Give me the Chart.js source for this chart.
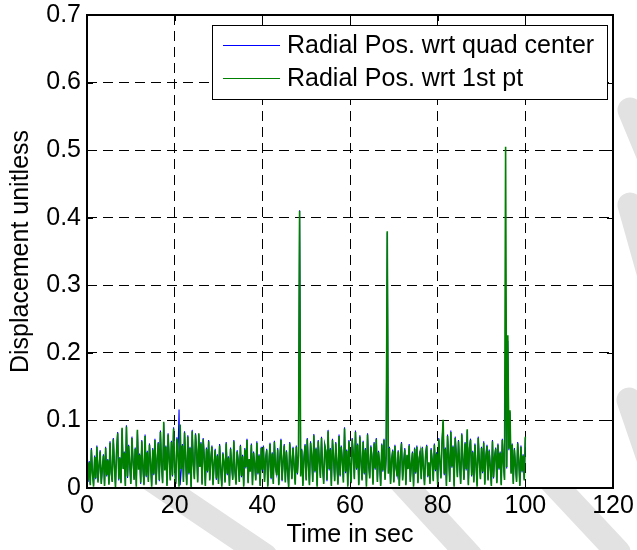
<!DOCTYPE html>
<html>
<head>
<meta charset="utf-8">
<script src="https://cdn.jsdelivr.net/npm/chart.js@4.4.0/dist/chart.umd.min.js"></script>
<style>
  html, body { margin: 0; padding: 0; background: #fff; }
  canvas { display: block; }
</style>
</head>
<body>
<canvas id="chart" width="637" height="550"></canvas>
<script>
// samples are 0.25 s apart, starting at t = 0 (10 samples per row = 2.5 s)
const SAMPLE_STEP = 0.25;

// Radial Pos. wrt quad center
const quadCenter = [
  /* 0 */    0.054, 0.009, 0.040, 0.006, 0.059, 0.021, 0.004, 0.048, 0.013, 0.063,
  /* 2.5 */  0.010, 0.031, 0.056, 0.008, 0.027, 0.050, 0.005, 0.061, 0.017, 0.043,
  /* 5 */    0.007, 0.069, 0.022, 0.011, 0.074, 0.034, 0.003, 0.057, 0.083, 0.011,
  /* 7.5 */  0.046, 0.009, 0.087, 0.030, 0.054, 0.005, 0.093, 0.015, 0.064, 0.033,
  /* 10 */   0.008, 0.076, 0.039, 0.014, 0.060, 0.004, 0.084, 0.029, 0.051, 0.006,
  /* 12.5 */ 0.071, 0.029, 0.006, 0.079, 0.016, 0.055, 0.011, 0.066, 0.036, 0.004,
  /* 15 */   0.059, 0.019, 0.073, 0.007, 0.041, 0.068, 0.010, 0.085, 0.032, 0.009,
  /* 17.5 */ 0.096, 0.028, 0.063, 0.005, 0.081, 0.043, 0.013, 0.070, 0.017, 0.090,
  /* 20 */   0.030, 0.008, 0.075, 0.049, 0.116, 0.004, 0.026, 0.065, 0.011, 0.084,
  /* 22.5 */ 0.043, 0.006, 0.078, 0.020, 0.061, 0.003, 0.086, 0.035, 0.015, 0.081,
  /* 25 */   0.057, 0.010, 0.079, 0.033, 0.068, 0.007, 0.074, 0.045, 0.005, 0.060,
  /* 27.5 */ 0.023, 0.071, 0.013, 0.042, 0.063, 0.006, 0.035, 0.058, 0.012, 0.050,
  /* 30 */   0.008, 0.065, 0.027, 0.004, 0.053, 0.037, 0.010, 0.068, 0.019, 0.047,
  /* 32.5 */ 0.005, 0.060, 0.031, 0.014, 0.071, 0.024, 0.007, 0.056, 0.039, 0.011,
  /* 35 */   0.064, 0.016, 0.049, 0.004, 0.059, 0.029, 0.073, 0.009, 0.041, 0.026,
  /* 37.5 */ 0.066, 0.006, 0.054, 0.034, 0.013, 0.069, 0.020, 0.050, 0.005, 0.061,
  /* 40 */   0.025, 0.063, 0.011, 0.042, 0.058, 0.004, 0.036, 0.067, 0.013, 0.053,
  /* 42.5 */ 0.008, 0.070, 0.030, 0.021, 0.059, 0.006, 0.044, 0.073, 0.010, 0.041,
  /* 45 */   0.065, 0.010, 0.056, 0.025, 0.003, 0.068, 0.040, 0.015, 0.061, 0.033,
  /* 47.5 */ 0.007, 0.063, 0.020, 0.050, 0.411, 0.019, 0.058, 0.005, 0.046, 0.065,
  /* 50 */   0.013, 0.074, 0.034, 0.006, 0.069, 0.047, 0.011, 0.080, 0.023, 0.060,
  /* 52.5 */ 0.004, 0.071, 0.039, 0.017, 0.076, 0.029, 0.008, 0.064, 0.055, 0.010,
  /* 55 */   0.086, 0.026, 0.059, 0.005, 0.073, 0.043, 0.012, 0.068, 0.035, 0.007,
  /* 57.5 */ 0.079, 0.017, 0.063, 0.040, 0.010, 0.090, 0.022, 0.057, 0.004, 0.071,
  /* 60 */   0.032, 0.009, 0.074, 0.049, 0.015, 0.085, 0.027, 0.066, 0.006, 0.078,
  /* 62.5 */ 0.039, 0.013, 0.070, 0.020, 0.059, 0.004, 0.081, 0.034, 0.016, 0.063,
  /* 65 */   0.049, 0.007, 0.068, 0.027, 0.074, 0.011, 0.055, 0.036, 0.005, 0.066,
  /* 67.5 */ 0.024, 0.073, 0.014, 0.046, 0.378, 0.023, 0.061, 0.008, 0.041, 0.057,
  /* 70 */   0.010, 0.064, 0.029, 0.019, 0.056, 0.005, 0.045, 0.068, 0.013, 0.037,
  /* 72.5 */ 0.059, 0.006, 0.047, 0.030, 0.065, 0.011, 0.034, 0.054, 0.004, 0.060,
  /* 75 */   0.021, 0.063, 0.009, 0.042, 0.055, 0.015, 0.061, 0.029, 0.006, 0.051,
  /* 77.5 */ 0.064, 0.016, 0.036, 0.008, 0.059, 0.040, 0.012, 0.066, 0.025, 0.053,
  /* 80 */   0.007, 0.074, 0.037, 0.016, 0.070, 0.098, 0.019, 0.060, 0.005, 0.079,
  /* 82.5 */ 0.048, 0.011, 0.085, 0.030, 0.063, 0.004, 0.076, 0.049, 0.018, 0.071,
  /* 85 */   0.035, 0.008, 0.081, 0.042, 0.014, 0.068, 0.026, 0.085, 0.006, 0.060,
  /* 87.5 */ 0.073, 0.017, 0.055, 0.010, 0.066, 0.033, 0.004, 0.076, 0.039, 0.015,
  /* 90 */   0.061, 0.022, 0.069, 0.007, 0.046, 0.064, 0.013, 0.057, 0.031, 0.005,
  /* 92.5 */ 0.071, 0.014, 0.048, 0.060, 0.009, 0.066, 0.027, 0.054, 0.006, 0.073,
  /* 95 */   0.036, 0.014, 0.221, 0.029, 0.218, 0.056, 0.112, 0.023, 0.066, 0.008,
  /* 97.5 */ 0.059, 0.032, 0.011, 0.068, 0.040, 0.005, 0.063, 0.023, 0.050, 0.013,
  /* 100 */  0.074
];

// Radial Pos. wrt 1st pt
const firstPoint = [
  /* 0 */    0.052, 0.011, 0.038, 0.004, 0.057, 0.023, 0.002, 0.046, 0.015, 0.061,
  /* 2.5 */  0.008, 0.033, 0.054, 0.006, 0.029, 0.048, 0.003, 0.059, 0.019, 0.041,
  /* 5 */    0.005, 0.067, 0.024, 0.009, 0.072, 0.036, 0.001, 0.055, 0.081, 0.013,
  /* 7.5 */  0.044, 0.007, 0.089, 0.028, 0.052, 0.003, 0.091, 0.017, 0.062, 0.035,
  /* 10 */   0.006, 0.074, 0.041, 0.012, 0.058, 0.002, 0.086, 0.027, 0.049, 0.008,
  /* 12.5 */ 0.069, 0.031, 0.004, 0.077, 0.018, 0.053, 0.009, 0.064, 0.038, 0.002,
  /* 15 */   0.057, 0.021, 0.071, 0.005, 0.043, 0.066, 0.012, 0.083, 0.034, 0.007,
  /* 17.5 */ 0.098, 0.026, 0.061, 0.003, 0.079, 0.045, 0.011, 0.068, 0.019, 0.088,
  /* 20 */   0.032, 0.006, 0.073, 0.051, 0.002, 0.094, 0.028, 0.063, 0.009, 0.082,
  /* 22.5 */ 0.041, 0.004, 0.076, 0.022, 0.059, 0.001, 0.084, 0.037, 0.013, 0.079,
  /* 25 */   0.055, 0.008, 0.081, 0.031, 0.066, 0.005, 0.072, 0.047, 0.003, 0.058,
  /* 27.5 */ 0.025, 0.069, 0.011, 0.044, 0.061, 0.004, 0.037, 0.056, 0.014, 0.048,
  /* 30 */   0.006, 0.063, 0.029, 0.002, 0.051, 0.039, 0.008, 0.066, 0.021, 0.045,
  /* 32.5 */ 0.003, 0.058, 0.033, 0.012, 0.069, 0.026, 0.005, 0.054, 0.041, 0.009,
  /* 35 */   0.062, 0.018, 0.047, 0.002, 0.057, 0.031, 0.071, 0.007, 0.043, 0.024,
  /* 37.5 */ 0.064, 0.004, 0.052, 0.036, 0.011, 0.067, 0.022, 0.048, 0.003, 0.059,
  /* 40 */   0.027, 0.061, 0.009, 0.044, 0.056, 0.002, 0.038, 0.065, 0.015, 0.051,
  /* 42.5 */ 0.006, 0.068, 0.032, 0.019, 0.057, 0.004, 0.046, 0.071, 0.012, 0.039,
  /* 45 */   0.063, 0.008, 0.054, 0.027, 0.001, 0.066, 0.042, 0.013, 0.059, 0.035,
  /* 47.5 */ 0.005, 0.061, 0.022, 0.048, 0.410, 0.017, 0.056, 0.003, 0.044, 0.063,
  /* 50 */   0.011, 0.072, 0.036, 0.004, 0.067, 0.049, 0.009, 0.078, 0.025, 0.058,
  /* 52.5 */ 0.002, 0.069, 0.041, 0.015, 0.074, 0.031, 0.006, 0.062, 0.053, 0.012,
  /* 55 */   0.084, 0.028, 0.057, 0.003, 0.071, 0.045, 0.010, 0.066, 0.037, 0.005,
  /* 57.5 */ 0.077, 0.019, 0.061, 0.042, 0.008, 0.088, 0.024, 0.055, 0.002, 0.069,
  /* 60 */   0.034, 0.007, 0.072, 0.051, 0.013, 0.083, 0.029, 0.064, 0.004, 0.076,
  /* 62.5 */ 0.041, 0.011, 0.068, 0.022, 0.057, 0.002, 0.079, 0.036, 0.014, 0.061,
  /* 65 */   0.047, 0.005, 0.066, 0.029, 0.072, 0.009, 0.053, 0.038, 0.003, 0.064,
  /* 67.5 */ 0.026, 0.071, 0.012, 0.048, 0.380, 0.021, 0.059, 0.006, 0.043, 0.055,
  /* 70 */   0.008, 0.062, 0.031, 0.017, 0.054, 0.003, 0.047, 0.066, 0.011, 0.039,
  /* 72.5 */ 0.057, 0.004, 0.049, 0.028, 0.063, 0.009, 0.036, 0.052, 0.002, 0.058,
  /* 75 */   0.023, 0.061, 0.007, 0.044, 0.053, 0.013, 0.059, 0.031, 0.004, 0.049,
  /* 77.5 */ 0.062, 0.018, 0.038, 0.006, 0.057, 0.042, 0.010, 0.064, 0.027, 0.051,
  /* 80 */   0.005, 0.072, 0.039, 0.014, 0.068, 0.101, 0.021, 0.058, 0.003, 0.077,
  /* 82.5 */ 0.046, 0.009, 0.083, 0.032, 0.061, 0.002, 0.074, 0.051, 0.016, 0.069,
  /* 85 */   0.037, 0.006, 0.079, 0.044, 0.012, 0.066, 0.028, 0.087, 0.004, 0.058,
  /* 87.5 */ 0.071, 0.019, 0.053, 0.008, 0.064, 0.035, 0.002, 0.074, 0.041, 0.013,
  /* 90 */   0.059, 0.024, 0.067, 0.005, 0.048, 0.062, 0.011, 0.055, 0.033, 0.003,
  /* 92.5 */ 0.069, 0.016, 0.046, 0.058, 0.007, 0.064, 0.029, 0.052, 0.004, 0.071,
  /* 95 */   0.038, 0.012, 0.505, 0.031, 0.226, 0.058, 0.115, 0.021, 0.064, 0.006,
  /* 97.5 */ 0.057, 0.034, 0.009, 0.066, 0.042, 0.003, 0.061, 0.025, 0.048, 0.011,
  /* 100 */  0.076
];

const seriesLabels = ["Radial Pos. wrt quad center", "Radial Pos. wrt 1st pt"];
const seriesColors = ["#0000ff", "#008000"];
const xTicks = [0, 20, 40, 60, 80, 100, 120];
const yTicks = [0, 0.1, 0.2, 0.3, 0.4, 0.5, 0.6, 0.7];

const FONT = '"Liberation Sans", Arial, sans-serif';
const toPoints = (values) => values.map((v, i) => ({ x: i * SAMPLE_STEP, y: v }));

const matlabFrame = {
    id: "matlabFrame",
    beforeDraw(chart) {
        const { ctx, chartArea: a } = chart;
        ctx.save();
        ctx.fillStyle = "#fff";
        ctx.fillRect(0, 0, chart.width, chart.height);
        // faint watermark strokes, only visible outside the axes
        ctx.strokeStyle = "#e2e2e2";
        ctx.lineWidth = 25;
        ctx.lineCap = "round";
        [
            [120, 458, 265, 556],
            [380, 458, 470, 556],
            [530, 458, 618, 552],
            [630, 110, 680, 230],
            [630, 205, 665, 330],
            [629, 400, 670, 520],
        ].forEach(([x1, y1, x2, y2]) => {
            ctx.beginPath();
            ctx.moveTo(x1, y1);
            ctx.lineTo(x2, y2);
            ctx.stroke();
        });
        ctx.fillStyle = "#fff";
        ctx.fillRect(a.left, a.top, a.right - a.left, a.bottom - a.top);
        ctx.restore();
    },
    afterDraw(chart) {
        const { ctx, chartArea: a, scales } = chart;
        ctx.save();
        ctx.strokeStyle = "#000";
        ctx.lineWidth = 1;
        ctx.setLineDash([]);

        // inward tick marks on all four sides
        ctx.beginPath();
        xTicks.forEach((v) => {
            const px = Math.round(scales.x.getPixelForValue(v)) + 0.5;
            ctx.moveTo(px, a.bottom);
            ctx.lineTo(px, a.bottom - 6);
            ctx.moveTo(px, a.top);
            ctx.lineTo(px, a.top + 6);
        });
        yTicks.forEach((v) => {
            const py = Math.round(scales.y.getPixelForValue(v)) + 0.5;
            ctx.moveTo(a.left, py);
            ctx.lineTo(a.left + 6, py);
            ctx.moveTo(a.right, py);
            ctx.lineTo(a.right - 6, py);
        });
        ctx.stroke();

        // axes box
        ctx.lineWidth = 2;
        ctx.strokeRect(Math.round(a.left), Math.round(a.top), Math.round(a.right - a.left), Math.round(a.bottom - a.top));

        // boxed legend, top right
        ctx.font = `25px ${FONT}`;
        const textW = Math.max(...seriesLabels.map((t) => ctx.measureText(t).width));
        const boxW = Math.round(textW + 88);
        const boxH = 74;
        const boxR = Math.round(a.right) - 6;
        const boxT = Math.round(a.top) + 10;
        const boxL = boxR - boxW;
        ctx.fillStyle = "#fff";
        ctx.fillRect(boxL, boxT, boxW, boxH);
        ctx.lineWidth = 1;
        ctx.strokeRect(boxL + 0.5, boxT + 0.5, boxW, boxH);
        chart.data.datasets.forEach((ds, i) => {
            const y = boxT + 20 + i * 33;
            ctx.strokeStyle = ds.borderColor;
            ctx.beginPath();
            ctx.moveTo(boxL + 11, y + 0.5);
            ctx.lineTo(boxL + 68, y + 0.5);
            ctx.stroke();
            ctx.fillStyle = "#000";
            ctx.textBaseline = "middle";
            ctx.textAlign = "left";
            ctx.fillText(ds.label, boxL + 75, y + 1);
        });
        ctx.restore();
    },
};

const lineStyle = {
    pointRadius: 0,
    tension: 0,
    fill: false,
};

new Chart(document.getElementById("chart"), {
    type: "line",
    data: {
        datasets: [
            { label: seriesLabels[0], data: toPoints(quadCenter), borderColor: seriesColors[0], borderWidth: 1.1, order: 1, ...lineStyle },
            { label: seriesLabels[1], data: toPoints(firstPoint), borderColor: seriesColors[1], borderWidth: 1.6, order: 0, ...lineStyle },
        ],
    },
    options: {
        responsive: false,
        animation: false,
        devicePixelRatio: 1,
        layout: { padding: { top: 15, right: 24, left: 0, bottom: 0 } },
        plugins: {
            legend: { display: false },
            tooltip: { enabled: false },
        },
        scales: {
            x: {
                type: "linear",
                min: 0,
                max: 120,
                afterBuildTicks: (s) => { s.ticks = xTicks.map((v) => ({ value: v })); },
                afterFit: (s) => {
                    s.height = 62;
                    s.paddingLeft = 0;
                    s.paddingRight = 0;
                },
                grid: { color: "#000", lineWidth: 1, drawTicks: false },
                border: { display: false, dash: [10, 6] },
                ticks: {
                    color: "#000",
                    font: { size: 25, family: FONT },
                    padding: 3,
                    maxRotation: 0,
                    autoSkip: false,
                    callback: (v) => String(v),
                },
                title: {
                    display: true,
                    text: "Time in sec",
                    color: "#000",
                    font: { size: 25, family: FONT },
                    padding: { top: 0, bottom: 0 },
                },
            },
            y: {
                type: "linear",
                min: 0,
                max: 0.7,
                afterBuildTicks: (s) => { s.ticks = yTicks.map((v) => ({ value: v })); },
                afterFit: (s) => {
                    s.width = 87;
                    s.paddingTop = 0;
                    s.paddingBottom = 0;
                },
                grid: { color: "#000", lineWidth: 1, drawTicks: false },
                border: { display: false, dash: [10, 6] },
                ticks: {
                    color: "#000",
                    font: { size: 25, family: FONT },
                    padding: 6,
                    autoSkip: false,
                    callback: (v) => String(v),
                },
                title: {
                    display: true,
                    text: "Displacement unitless",
                    color: "#000",
                    font: { size: 25, family: FONT },
                    padding: { top: 6, bottom: 0 },
                },
            },
        },
    },
    plugins: [matlabFrame],
});
</script>
</body>
</html>
